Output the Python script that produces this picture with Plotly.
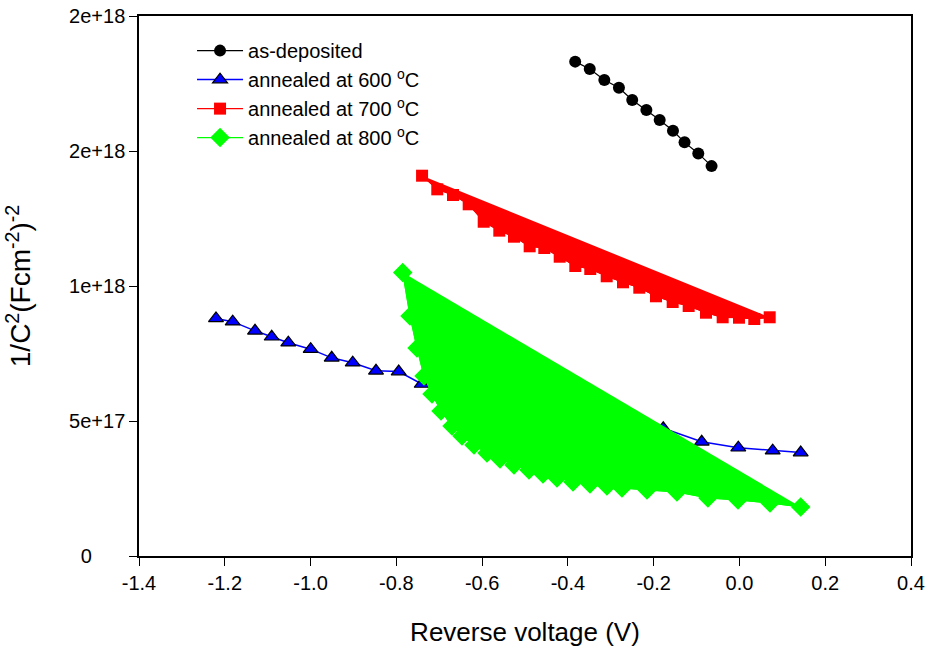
import plotly.graph_objects as go

# as-deposited
x_dep = [-0.383, -0.349, -0.315, -0.281, -0.250, -0.217, -0.186, -0.155, -0.128, -0.096, -0.065]
y_dep = [1.831e18, 1.804e18, 1.763e18, 1.734e18, 1.689e18, 1.652e18, 1.615e18, 1.575e18, 1.532e18, 1.491e18, 1.444e18]

# annealed at 600 C (middle points hidden under the green area)
x_600 = [-1.2205, -1.1815, -1.1295, -1.0906, -1.0519, -0.9997, -0.9507, -0.9017, -0.8474, -0.7945, -0.7409,
         -0.1776, -0.0880, -0.0027, 0.0775, 0.1428]
y_600 = [8.80e17, 8.68e17, 8.34e17, 8.12e17, 7.90e17, 7.66e17, 7.34e17, 7.16e17, 6.86e17, 6.83e17, 6.37e17,
         4.73e17, 4.23e17, 4.01e17, 3.90e17, 3.83e17]

# annealed at 700 C
x_700 = [-0.740, -0.7045, -0.6679, -0.6313, -0.5963, -0.5599, -0.5257, -0.4891, -0.4550, -0.4191, -0.3827,
         -0.3478, -0.3095, -0.2715, -0.2335, -0.1946, -0.1557, -0.1184, -0.0780, -0.0391, -0.0011, 0.0346, 0.0705]
y_700 = [1.4085e18, 1.358e18, 1.337e18, 1.3026e18, 1.238e18, 1.205e18, 1.1826e18, 1.147e18, 1.1407e18, 1.1085e18,
         1.074e18, 1.063e18, 1.036e18, 1.0137e18, 9.937e17, 9.619e17, 9.407e17, 9.259e17, 9.011e17, 8.841e17,
         8.826e17, 8.778e17, 8.841e17]

# annealed at 800 C
x_800 = [-0.7851, -0.7681, -0.7518, -0.7355, -0.7168, -0.6958, -0.6702, -0.6469, -0.6189, -0.5886, -0.5583,
         -0.5257, -0.4907, -0.4581, -0.4254, -0.3881, -0.3485, -0.3089, -0.2739, -0.2156, -0.1457, -0.0734,
         -0.0034, 0.0712, 0.1428]
y_800 = [1.0504e18, 8.889e17, 7.704e17, 6.667e17, 6.000e17, 5.370e17, 4.815e17, 4.444e17, 4.111e17, 3.815e17,
         3.593e17, 3.370e17, 3.185e17, 3.037e17, 2.889e17, 2.741e17, 2.667e17, 2.593e17, 2.519e17, 2.444e17,
         2.370e17, 2.148e17, 2.074e17, 1.963e17, 1.815e17]

y_tickvals = [0, 5e17, 1e18, 1.5e18, 2e18]
y_ticktext = ["0" + "&nbsp;" * 6, "5e+17", "1e+18", "2e+18", "2e+18"]
x_tickvals = [-1.4, -1.2, -1.0, -0.8, -0.6, -0.4, -0.2, 0.0, 0.2, 0.4]
x_ticktext = ["-1.4", "-1.2", "-1.0", "-0.8", "-0.6", "-0.4", "-0.2", "0.0", "0.2", "0.4"]

FONT = "Liberation Sans, Arial, sans-serif"

fig = go.Figure()
fig.add_trace(go.Scatter(x=x_dep, y=y_dep, mode="lines+markers", name="as-deposited",
                         line=dict(color="black", width=1.2),
                         marker=dict(symbol="circle", size=12, color="black")))
fig.add_trace(go.Scatter(x=x_600, y=y_600, mode="lines+markers", name="annealed at 600 <sup>o</sup>C",
                         line=dict(color="#0000ff", width=1.5),
                         marker=dict(symbol="triangle-up", size=13, color="#0000ff",
                                     line=dict(color="black", width=1.2))))
fig.add_trace(go.Scatter(x=x_700, y=y_700, mode="lines", fill="toself", fillcolor="#ff0000",
                         line=dict(color="#ff0000", width=1), showlegend=False, hoverinfo="skip"))
fig.add_trace(go.Scatter(x=x_700, y=y_700, mode="lines+markers", name="annealed at 700 <sup>o</sup>C",
                         line=dict(color="#ff0000", width=1.2),
                         marker=dict(symbol="square", size=12, color="#ff0000")))
fig.add_trace(go.Scatter(x=x_800, y=y_800, mode="lines", fill="toself", fillcolor="#00ff00",
                         line=dict(color="#00ff00", width=1), showlegend=False, hoverinfo="skip"))
fig.add_trace(go.Scatter(x=x_800, y=y_800, mode="lines+markers", name="annealed at 800 <sup>o</sup>C",
                         line=dict(color="#00ff00", width=1.2),
                         marker=dict(symbol="diamond", size=15, color="#00ff00")))

fig.update_layout(
    width=926, height=649,
    margin=dict(l=139, r=15, t=16, b=93, autoexpand=False),
    paper_bgcolor="white", plot_bgcolor="white",
    font=dict(family=FONT, size=20, color="black"),
    legend=dict(x=0.0687, y=0.972, xanchor="left", yanchor="top", bgcolor="rgba(0,0,0,0)",
                font=dict(family=FONT, size=20), tracegroupgap=0, itemwidth=46),
    xaxis=dict(range=[-1.4, 0.4], tickvals=x_tickvals, ticktext=x_ticktext, automargin=False,
               showline=True, mirror=True, linecolor="black", linewidth=1.5,
               ticks="outside", ticklen=8, tickwidth=1.2, tickcolor="black",
               showgrid=False, zeroline=False,
               tickfont=dict(family=FONT, size=20),
               title=dict(text="Reverse voltage (V)", font=dict(family=FONT, size=26), standoff=30)),
    yaxis=dict(range=[0, 2e18], tickvals=y_tickvals, ticktext=y_ticktext, automargin=False,
               showline=True, mirror=True, linecolor="black", linewidth=1.5,
               ticks="outside", ticklen=8, tickwidth=1.2, tickcolor="black",
               showgrid=False, zeroline=False,
               tickfont=dict(family=FONT, size=20),
               title=dict(text="1/C<sup>2</sup>(Fcm<sup>-2</sup>)<sup>-2</sup>",
                          font=dict(family=FONT, size=28), standoff=30)),
)

fig.write_html("out.html", config={"displayModeBar": False},
               post_script="document.body.style.margin='0px';")
